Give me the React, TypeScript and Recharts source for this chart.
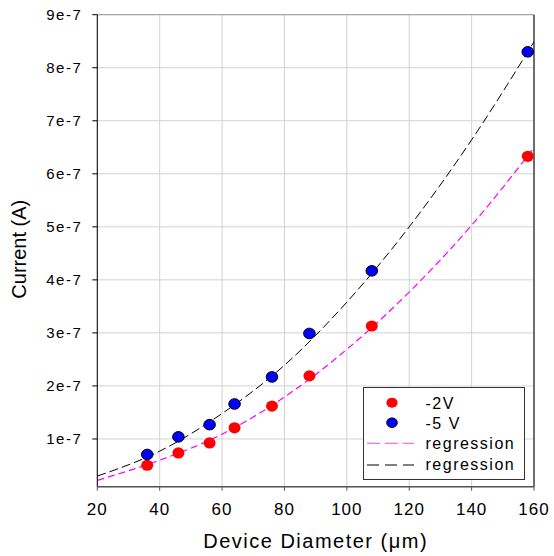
import React from 'react';
import {
  ComposedChart,
  XAxis,
  YAxis,
  CartesianGrid,
  Scatter,
  Line,
  Legend,
  ReferenceLine,
  Label,
} from 'recharts';

// Measured device diameters (µm)
const diameters = [36, 46, 56, 64, 76, 88, 108, 158];
// Measured current at -2 V (A)
const current2V = [5.04e-8, 7.36e-8, 9.25e-8, 1.21e-7, 1.62e-7, 2.19e-7, 3.13e-7, 6.33e-7];
// Measured current at -5 V (A)
const current5V = [7.08e-8, 1.04e-7, 1.27e-7, 1.66e-7, 2.17e-7, 2.99e-7, 4.17e-7, 8.3e-7];

// Regression curves
const regressionX = [20, 40, 60, 80, 100, 120, 140, 160];
const regression2V = [2.2e-8, 6.0e-8, 1.09e-7, 1.79e-7, 2.69e-7, 3.77e-7, 5.03e-7, 6.49e-7];
const regression5V = [3.0e-8, 7.7e-8, 1.48e-7, 2.39e-7, 3.58e-7, 5.0e-7, 6.64e-7, 8.49e-7];

// Axis ticks
const xTicks = [20, 40, 60, 80, 100, 120, 140, 160];
const yTicks = [1e-7, 2e-7, 3e-7, 4e-7, 5e-7, 6e-7, 7e-7, 8e-7, 9e-7];
const yTickLabels = ['1e-7', '2e-7', '3e-7', '4e-7', '5e-7', '6e-7', '7e-7', '8e-7', '9e-7'];

const seriesNames = ['-2V', '-5 V', 'regression', 'regression'];

const points2V = diameters.map((x, i) => ({ x, y: current2V[i] }));
const points5V = diameters.map((x, i) => ({ x, y: current5V[i] }));
const reg2V = regressionX.map((x, i) => ({ x, y: regression2V[i] }));
const reg5V = regressionX.map((x, i) => ({ x, y: regression5V[i] }));

const FONT = '"Liberation Sans", Arial, Helvetica, sans-serif';

const RedDot = (props: any) => {
  const { cx, cy } = props;
  if (cx == null || cy == null) return null;
  return <ellipse cx={cx} cy={cy} rx={6} ry={5.6} fill="#ff0000" stroke="none" />;
};

const BlueDot = (props: any) => {
  const { cx, cy } = props;
  if (cx == null || cy == null) return null;
  return <ellipse cx={cx} cy={cy} rx={5.8} ry={5.3} fill="#0000ff" stroke="#000" strokeWidth={1} />;
};

const LegendBox = () => (
  <svg width={163} height={94} style={{ display: 'block', fontFamily: FONT }}>
    <rect x={0.5} y={0.5} width={161} height={92} fill="#fff" stroke="#333" strokeWidth={1} />
    <ellipse cx={29} cy={15.7} rx={5.6} ry={5} fill="#ff0000" />
    <ellipse cx={29} cy={35.7} rx={5.3} ry={4.8} fill="#0000ff" stroke="#000" strokeWidth={1} />
    <line x1={4} x2={51} y1={56.3} y2={56.3} stroke="#ff44ff" strokeWidth={1} strokeDasharray="13 5" />
    <line x1={4} x2={51} y1={78} y2={78} stroke="#000" strokeWidth={1} strokeDasharray="12 6" />
    <text x={62.5} y={21.5} fontSize={16} letterSpacing={1.5} fill="#000">{seriesNames[0]}</text>
    <text x={62.5} y={41.5} fontSize={16} letterSpacing={1.5} fill="#000">{seriesNames[1]}</text>
    <text x={62.5} y={62} fontSize={16} letterSpacing={1.5} fill="#000">{seriesNames[2]}</text>
    <text x={62.5} y={83} fontSize={16} letterSpacing={1.5} fill="#000">{seriesNames[3]}</text>
  </svg>
);

const XTitle = (props: any) => {
  const vb = props.viewBox || { x: 97, y: 487, width: 437, height: 69 };
  return (
    <text
      x={vb.x + vb.width / 2}
      y={vb.y + 61}
      textAnchor="middle"
      fontSize={20}
      letterSpacing={1.5}
      fill="#000"
      fontFamily={FONT}
    >
      Device Diameter (μm)
    </text>
  );
};

const YTitle = (props: any) => {
  const vb = props.viewBox || { x: 0, y: 15, width: 97, height: 472 };
  const x = vb.x + 26.5;
  const y = vb.y + vb.height / 2 - 1.5;
  return (
    <text
      x={x}
      y={y}
      transform={`rotate(-90 ${x} ${y})`}
      textAnchor="middle"
      fontSize={20}
      fill="#000"
      fontFamily={FONT}
    >
      Current (A)
    </text>
  );
};

const yFormatter = (v: number) => {
  const idx = yTicks.findIndex((t) => Math.abs(t - v) < 1e-12);
  return idx >= 0 ? yTickLabels[idx] : String(v);
};

export default function App() {
  return (
    <div style={{ position: 'absolute', left: 0, top: 0, width: 554, height: 556, background: '#fff', fontFamily: FONT }}>
      <ComposedChart
        width={554}
        height={556}
        margin={{ top: 14.7, right: 20, bottom: 0, left: 0 }}
      >
        <CartesianGrid stroke="#d2d2d2" strokeWidth={1} horizontal vertical />
        <XAxis
          type="number"
          dataKey="x"
          domain={[20, 160]}
          ticks={xTicks}
          allowDataOverflow
          height={69.3}
          tickSize={4}
          tickMargin={12}
          axisLine={{ stroke: '#555', strokeWidth: 1.5 }}
          tickLine={{ stroke: '#555' }}
          tick={{ fontSize: 17, fill: '#000', letterSpacing: 1, fontFamily: FONT }}
          label={<Label content={XTitle} />}
        />
        <YAxis
          type="number"
          dataKey="y"
          domain={[1e-8, 9e-7]}
          ticks={yTicks}
          allowDataOverflow
          width={97.3}
          tickSize={5}
          tickMargin={10}
          tickFormatter={yFormatter}
          axisLine={{ stroke: '#000', strokeWidth: 1 }}
          tickLine={{ stroke: '#000' }}
          tick={{ fontSize: 15, fill: '#000', letterSpacing: 1.5, fontFamily: FONT }}
          label={<Label content={YTitle} />}
        />
        <ReferenceLine y={9e-7} stroke="#9a9a9a" strokeWidth={1} />
        <ReferenceLine x={160} stroke="#444" strokeWidth={1.5} />
        <Line
          data={reg2V}
          dataKey="y"
          type="monotone"
          stroke="#ff00ff"
          strokeWidth={1.2}
          strokeDasharray="7 4"
          dot={false}
          activeDot={false}
          isAnimationActive={false}
          legendType="none"
        />
        <Line
          data={reg5V}
          dataKey="y"
          type="monotone"
          stroke="#000"
          strokeWidth={1}
          strokeDasharray="9 4"
          dot={false}
          activeDot={false}
          isAnimationActive={false}
          legendType="none"
        />
        <Scatter data={points2V} dataKey="y" shape={RedDot} isAnimationActive={false} />
        <Scatter data={points5V} dataKey="y" shape={BlueDot} isAnimationActive={false} />
        <Legend
          layout="vertical"
          align="center"
          verticalAlign="middle"
          content={() => <LegendBox />}
          wrapperStyle={{ left: 362.5, top: 387, width: 163, height: 94, right: 'auto', bottom: 'auto' }}
        />
      </ComposedChart>
    </div>
  );
}
